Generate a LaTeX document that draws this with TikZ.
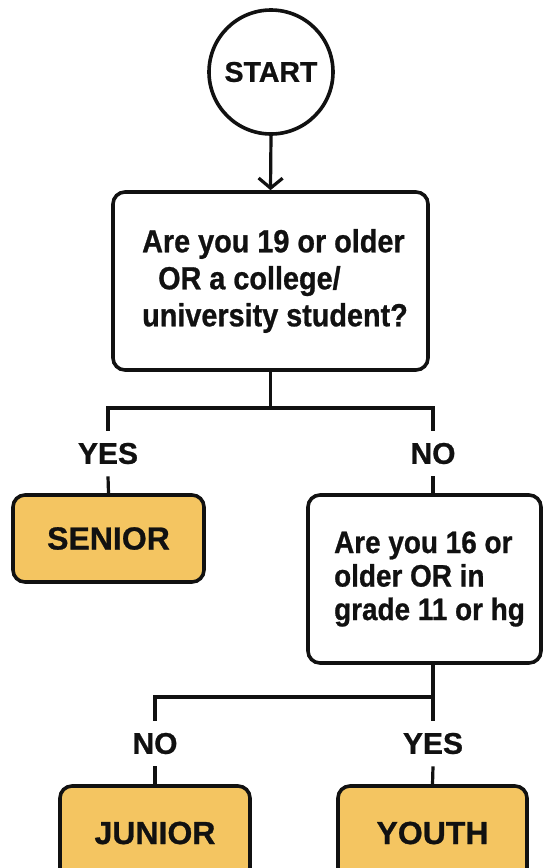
\documentclass[tikz,border=0pt]{standalone}
\usepackage{fontspec}
\setmainfont{Liberation Sans}[BoldFeatures={FakeBold=0.8}]
\newfontfamily\condfont{Liberation Sans}[FakeStretch=0.9, BoldFeatures={FakeBold=0.8}]
\usetikzlibrary{arrows.meta}
\definecolor{ink}{HTML}{111111}
\definecolor{gold}{HTML}{F4C561}
\tikzset{
  flow/.style={draw=ink, line width=3.2pt},
  box/.style={draw=ink, line width=3.6pt, rounded corners=12pt, inner sep=0pt, text=ink},
  question/.style={box, fill=white, align=left},
  result/.style={box, fill=gold, font=\bfseries\fontsize{32}{36}\selectfont},
  branchlabel/.style={inner xsep=2pt, inner ysep=12pt, font=\bfseries\fontsize{30}{36}\selectfont, text=ink},
}
\begin{document}
\begin{tikzpicture}[x=1pt, y=-1pt]
\useasboundingbox (0,0) rectangle (544,868);
\clip (0,0) rectangle (544,868);
\fill[white] (0,0) rectangle (544,868);

\node[draw=ink, line width=3.6pt, circle, minimum size=124pt, inner sep=0pt,
      font=\bfseries\fontsize{28.5}{34}\selectfont, text=ink] (start) at (271,72) {START};

\node[question, minimum width=315pt, minimum height=178pt,
      font=\condfont\bfseries\fontsize{32}{37}\selectfont] (q1) at (270.5,281)
  {\hspace*{9pt}Are you 19 or older\\\hspace*{25pt}OR a college/\\\hspace*{9pt}university student?};

\node[result, minimum width=191pt, minimum height=87pt] (senior) at (108.5,538.5) {SENIOR};
\node[question, minimum width=233pt, minimum height=168pt,
      font=\condfont\bfseries\fontsize{31}{33.5}\selectfont] (q2) at (424.5,579)
  {\hspace*{10pt}Are you 16 or\\\hspace*{10pt}older OR in\\\hspace*{10pt}grade 11 or hg};

\node[result, minimum width=190pt, minimum height=94pt] (junior) at (155,833) {JUNIOR};
\node[result, minimum width=189pt, minimum height=94pt] (youth) at (432.5,833) {YOUTH};

\node[branchlabel] (yes1) at (108,453.5) {YES};
\node[branchlabel] (no1) at (433,453.5) {NO};
\node[branchlabel] (no2) at (155,743.5) {NO};
\node[branchlabel] (yes2) at (433,743.5) {YES};

\coordinate (s1) at (270.5,408);
\coordinate (s2) at (433,697);

\draw[flow, -{Straight Barb[length=10pt, width=24pt]}] (start.south) -- (q1.north);

\draw[flow] (q1.south) -- (s1);
\draw[flow] (yes1.north) |- (s1) -| (no1.north);
\draw[flow] (yes1.south) -- (senior.north);
\draw[flow] (no1.south) -- (no1.south |- q2.north);

\draw[flow] (q2.south -| s2) -- (s2);
\draw[flow] (no2.north) |- (s2) -- (yes2.north);
\draw[flow] (no2.south) -- (junior.north);
\draw[flow] (yes2.south) -- (youth.north);
\end{tikzpicture}
\end{document}
